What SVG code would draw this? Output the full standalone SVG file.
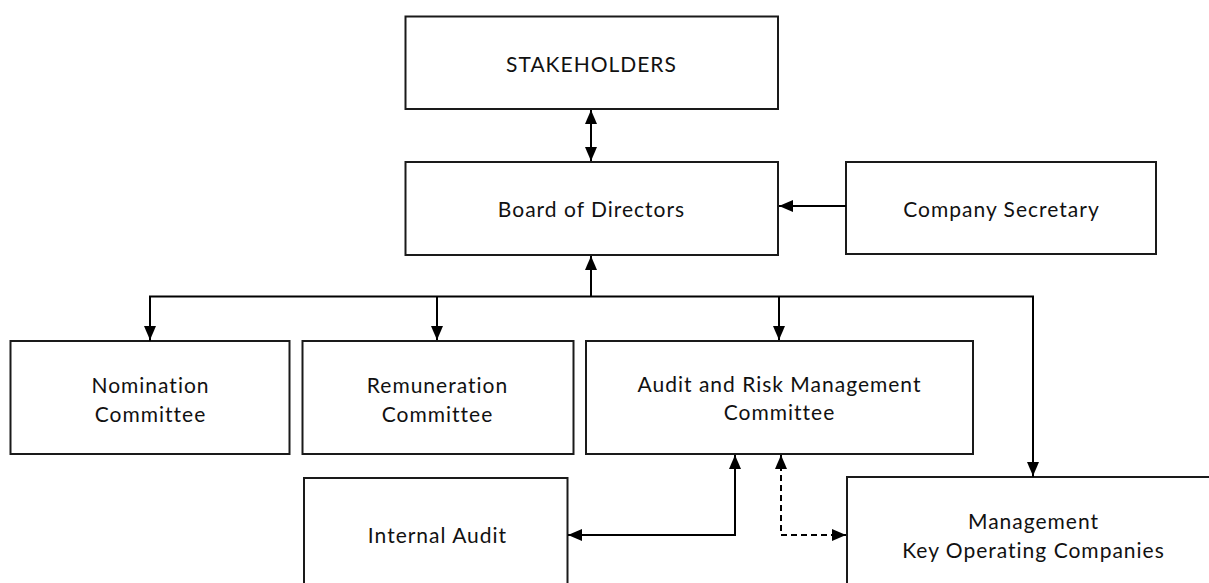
<svg xmlns="http://www.w3.org/2000/svg" width="1209" height="583" viewBox="0 0 1209 583">
<style>
.box{fill:#fff;stroke:#1a1a1a;stroke-width:2}
.t{font-family:Lato,"Open Sans",sans-serif;font-size:21px;letter-spacing:1px;fill:#111;text-anchor:middle}
.c{fill:none;stroke:#000;stroke-width:2}
.d{fill:none;stroke:#000;stroke-width:2;stroke-dasharray:6,4}
</style>
<defs>
<marker id="ah" viewBox="0 0 14 12" refX="14" refY="6" markerWidth="14" markerHeight="12" markerUnits="userSpaceOnUse" orient="auto-start-reverse">
<path d="M0,0 L14,6 L0,12 z" fill="#000"/>
</marker>
</defs>
<rect width="1209" height="583" fill="#fff"/>
<g id="stakeholders"><rect class="box" x="405.5" y="16.5" width="372.5" height="92.5"/><text class="t" x="591.5" y="71.5">STAKEHOLDERS</text></g>
<g id="board"><rect class="box" x="405.5" y="162" width="372.5" height="93"/><text class="t" x="591.5" y="217">Board of Directors</text></g>
<g id="secretary"><rect class="box" x="846" y="162" width="310" height="92"/><text class="t" x="1001.5" y="217">Company Secretary</text></g>
<g id="nomination"><rect class="box" x="10.5" y="341" width="279" height="113"/><text class="t" x="150.5" y="392.5">Nomination</text><text class="t" x="150.5" y="421.5">Committee</text></g>
<g id="remuneration"><rect class="box" x="302.5" y="341" width="271" height="113"/><text class="t" x="437.5" y="392.5">Remuneration</text><text class="t" x="437.5" y="421.5">Committee</text></g>
<g id="audit"><rect class="box" x="586" y="341" width="387" height="113"/><text class="t" x="779.5" y="392">Audit and Risk Management</text><text class="t" x="779.5" y="420">Committee</text></g>
<g id="internal"><rect class="box" x="304" y="478" width="263.5" height="120"/><text class="t" x="437.5" y="543">Internal Audit</text></g>
<g id="management"><rect class="box" x="847" y="477" width="380" height="120"/><text class="t" x="1033.5" y="529">Management</text><text class="t" x="1033.5" y="558">Key Operating Companies</text></g>
<g id="connectors">
<path class="c" d="M591,110 V161" marker-start="url(#ah)" marker-end="url(#ah)"/>
<path class="c" d="M846,206 H779" marker-end="url(#ah)"/>
<path class="c" d="M591,296.5 V256" marker-end="url(#ah)"/>
<path class="c" d="M150,341 V296.5 H1033 V477"/>
<path class="c" d="M150,310 V340" marker-end="url(#ah)"/>
<path class="c" d="M437,296.5 V340" marker-end="url(#ah)"/>
<path class="c" d="M779,296.5 V340" marker-end="url(#ah)"/>
<path class="c" d="M1033,400 V476" marker-end="url(#ah)"/>
<path class="c" d="M568,535 H735 V455" marker-start="url(#ah)" marker-end="url(#ah)"/>
<path class="d" d="M781,455 V535 H846" marker-start="url(#ah)" marker-end="url(#ah)"/>
</g>
</svg>
